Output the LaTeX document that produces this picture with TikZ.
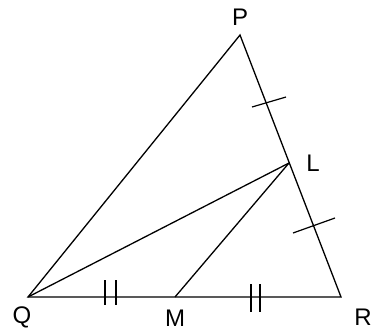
\documentclass[tikz,border=0pt]{standalone}
\usepackage{fontspec}
\setmainfont{Liberation Sans}
\usetikzlibrary{calc}

\begin{document}
\begin{tikzpicture}[
  x=1pt, y=-1pt,
  side/.style={draw=black, line width=1.3pt},
  hatch/.style={draw=black, line width=1.2pt},
  lbl/.style={inner sep=0pt, font=\fontsize{24}{24}\selectfont},
]
  \useasboundingbox (0,0) rectangle (371,333);

  % Vertices
  \coordinate (P) at (240,35);
  \coordinate (Q) at (28,297);
  \coordinate (R) at (341,297);
  \coordinate (L) at (289,163);
  \coordinate (M) at (175,297);

  % Triangle
  \draw[side] (Q) -- (P) -- (R) -- cycle;

  % Segments from L
  \draw[side] (Q) -- (L);
  \draw[side] (M) -- (L);

  % Equal marks on PR
  \draw[hatch] (252,107) -- (286,97);
  \draw[hatch] (293,233) -- (335,218);

  % Equal marks on QR
  \draw[hatch] (105,280) -- (105,305);
  \draw[hatch] (116,280) -- (116,305);
  \draw[hatch] (251,284) -- (251,312);
  \draw[hatch] (260,284) -- (260,312);

  % Labels
  \node[lbl] (lP) at (240,17) {P};
  \node[lbl] (lL) at (313,163) {L};
  \node[lbl] (lQ) at (22,317) {Q};
  \node[lbl] (lM) at (175,318) {M};
  \node[lbl] (lR) at (363,317) {R};

\end{tikzpicture}
\end{document}
